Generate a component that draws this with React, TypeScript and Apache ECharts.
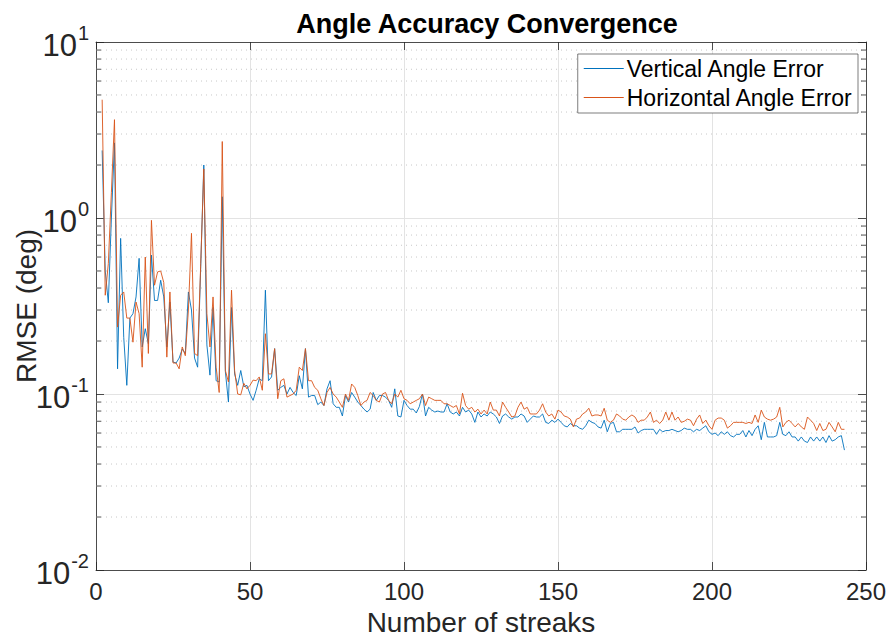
import React, { useEffect, useRef } from "react";
import * as echarts from "echarts";

const chartTitle = "Angle Accuracy Convergence";
const xName = "Number of streaks";
const yName = "RMSE (deg)";
const seriesNames = ["Vertical Angle Error", "Horizontal Angle Error"];
const seriesColors = ["#0072BD", "#D95319"];
const firstStreak = 2;

const verticalErr = [
  2.42, 0.5, 0.33, 1.0, 2.67, 0.139, 0.766, 0.21, 0.112, 0.27,
  0.286, 0.356, 0.59, 0.185, 0.235, 0.193, 0.615, 0.34, 0.34, 0.443,
  0.356, 0.185, 0.333, 0.152, 0.15, 0.16, 0.18, 0.17, 0.38, 0.3,
  0.16, 0.142, 0.53, 2.0, 0.19, 0.128, 0.31, 0.119, 0.117, 1.32,
  0.134, 0.09, 0.31, 0.13, 0.112, 0.136, 0.11, 0.112, 0.1, 0.092,
  0.105, 0.122, 0.119, 0.389, 0.119, 0.125, 0.181, 0.105, 0.109, 0.112,
  0.1, 0.109, 0.102, 0.098, 0.127, 0.107, 0.181, 0.096, 0.098, 0.098,
  0.087, 0.09, 0.086, 0.107, 0.119, 0.088, 0.084, 0.084, 0.075, 0.098,
  0.09, 0.102, 0.096, 0.09, 0.086, 0.082, 0.079, 0.082, 0.102, 0.092,
  0.098, 0.098, 0.096, 0.092, 0.084, 0.107, 0.075, 0.074, 0.092, 0.086,
  0.082, 0.082, 0.078, 0.085, 0.1, 0.075, 0.084, 0.081, 0.079, 0.08,
  0.079, 0.079, 0.088, 0.079, 0.077, 0.079, 0.075, 0.084, 0.079, 0.081,
  0.077, 0.069, 0.079, 0.074, 0.077, 0.075, 0.079, 0.077, 0.074, 0.068,
  0.075, 0.077, 0.074, 0.072, 0.074, 0.074, 0.077, 0.075, 0.069, 0.072,
  0.075, 0.074, 0.074, 0.077, 0.069, 0.068, 0.071, 0.069, 0.072, 0.069,
  0.066, 0.065, 0.068, 0.066, 0.066, 0.064, 0.063, 0.066, 0.071, 0.069,
  0.068, 0.065, 0.064, 0.071, 0.061, 0.068, 0.069, 0.061, 0.061, 0.063,
  0.063, 0.063, 0.063, 0.065, 0.06, 0.062, 0.063, 0.063, 0.063, 0.063,
  0.059, 0.063, 0.061, 0.062, 0.062, 0.063, 0.062, 0.061, 0.062, 0.064,
  0.063, 0.063, 0.061, 0.063, 0.062, 0.064, 0.066, 0.061, 0.059, 0.06,
  0.058, 0.061, 0.059, 0.061, 0.058, 0.057, 0.059, 0.059, 0.062, 0.057,
  0.062, 0.058, 0.063, 0.066, 0.055, 0.069, 0.057, 0.057, 0.057, 0.058,
  0.069, 0.059, 0.058, 0.061, 0.057, 0.057, 0.054, 0.057, 0.054, 0.053,
  0.057, 0.054, 0.057, 0.054, 0.057, 0.053, 0.058, 0.054, 0.055, 0.057,
  0.058, 0.048,
];

const horizontalErr = [
  4.7, 0.364, 0.55, 1.4, 3.62, 0.24, 0.364, 0.38, 0.27, 0.27,
  0.197, 0.333, 0.286, 0.142, 0.6, 0.17, 0.97, 0.415, 0.494, 0.5,
  0.43, 0.162, 0.38, 0.15, 0.15, 0.139, 0.185, 0.165, 0.3, 0.818,
  0.17, 0.165, 0.55, 1.9, 0.286, 0.185, 0.356, 0.142, 0.102, 2.72,
  0.136, 0.117, 0.389, 0.136, 0.1, 0.099, 0.115, 0.107, 0.112, 0.12,
  0.119, 0.125, 0.105, 0.22, 0.13, 0.13, 0.181, 0.094, 0.119, 0.122,
  0.096, 0.098, 0.1, 0.105, 0.142, 0.136, 0.181, 0.119, 0.119, 0.109,
  0.105, 0.094, 0.086, 0.102, 0.109, 0.1, 0.096, 0.09, 0.084, 0.1,
  0.092, 0.114, 0.109, 0.098, 0.086, 0.09, 0.092, 0.102, 0.098, 0.092,
  0.09, 0.1, 0.102, 0.092, 0.088, 0.1, 0.096, 0.105, 0.094, 0.092,
  0.088, 0.09, 0.092, 0.094, 0.1, 0.086, 0.096, 0.094, 0.092, 0.092,
  0.092, 0.088, 0.088, 0.086, 0.084, 0.086, 0.077, 0.101, 0.086, 0.082,
  0.084, 0.079, 0.082, 0.077, 0.081, 0.077, 0.09, 0.081, 0.081, 0.075,
  0.09, 0.084, 0.079, 0.074, 0.075, 0.084, 0.09, 0.082, 0.084, 0.077,
  0.077, 0.077, 0.081, 0.088, 0.079, 0.075, 0.077, 0.072, 0.081, 0.079,
  0.075, 0.074, 0.072, 0.065, 0.072, 0.073, 0.077, 0.079, 0.083, 0.075,
  0.076, 0.076, 0.075, 0.083, 0.071, 0.069, 0.071, 0.077, 0.075, 0.072,
  0.071, 0.074, 0.076, 0.074, 0.069, 0.071, 0.071, 0.074, 0.079, 0.069,
  0.071, 0.068, 0.071, 0.079, 0.071, 0.079, 0.071, 0.074, 0.069, 0.07,
  0.072, 0.071, 0.066, 0.072, 0.076, 0.068, 0.071, 0.066, 0.063, 0.071,
  0.073, 0.073, 0.071, 0.064, 0.066, 0.069, 0.069, 0.069, 0.069, 0.068,
  0.069, 0.068, 0.076, 0.069, 0.081, 0.074, 0.072, 0.071, 0.072, 0.074,
  0.084, 0.065, 0.069, 0.071, 0.068, 0.065, 0.068, 0.065, 0.063, 0.074,
  0.071, 0.068, 0.062, 0.068, 0.062, 0.063, 0.069, 0.065, 0.061, 0.069,
  0.063, 0.063,
];

const minorTickValues = [
  0.02, 0.03, 0.04, 0.05, 0.06, 0.07, 0.08, 0.09,
  0.2, 0.3, 0.4, 0.5, 0.6, 0.7, 0.8, 0.9,
  2, 3, 4, 5, 6, 7, 8, 9,
];

const FONT = "'Liberation Sans', Arial, Helvetica, sans-serif";
const AXIS_COLOR = "#262626";
const LEGEND_ICON = "path://M0,0 L40,0 L40,1 L0,1 Z";

export default function App() {
  const ref = useRef<HTMLDivElement>(null);

  useEffect(() => {
    if (!ref.current) return;
    const chart = echarts.init(ref.current, null, { renderer: "svg" });

    const vData = verticalErr.map((v, i) => [firstStreak + i, v]);
    const hData = horizontalErr.map((v, i) => [firstStreak + i, v]);

    const xCommon = {
      type: "value" as const,
      min: 0,
      max: 250,
      interval: 50,
    };
    const yCommon = {
      type: "log" as const,
      logBase: 10,
      min: 0.01,
      max: 10,
    };
    const lineCommon = { show: true, onZero: false, lineStyle: { color: AXIS_COLOR, width: 0.8 } };
    const tickCommon = { show: true, inside: true, length: 8, lineStyle: { color: AXIS_COLOR, width: 0.8 } };

    chart.setOption({
      animation: false,
      backgroundColor: "#ffffff",
      textStyle: { fontFamily: FONT },
      title: {
        text: chartTitle,
        left: 482,
        textAlign: "center",
        top: 5,
        textStyle: { fontSize: 27, fontWeight: "bold", color: "#000", fontFamily: FONT },
      },
      legend: {
        data: seriesNames.map((n) => ({ name: n, icon: LEGEND_ICON })),
        orient: "vertical",
        right: 33,
        top: 54,
        itemWidth: 40,
        itemHeight: 1.2,
        itemGap: 6,
        padding: [3, 5, 4, 6],
        backgroundColor: "#ffffff",
        borderColor: AXIS_COLOR,
        borderWidth: 0.6,
        textStyle: { fontSize: 23, color: "#000", fontFamily: FONT, padding: [0, 0, 0, -2] },
      },
      grid: {
        left: 96,
        right: 25,
        top: 42,
        bottom: 66,
        containLabel: false,
        outerBoundsMode: "none",
      },
      xAxis: [
        {
          ...xCommon,
          position: "bottom",
          name: xName,
          nameLocation: "middle",
          nameGap: 38,
          nameTextStyle: { fontSize: 28, color: AXIS_COLOR, fontFamily: FONT },
          axisLine: lineCommon,
          axisTick: tickCommon,
          axisLabel: { fontSize: 24, color: AXIS_COLOR, margin: 9, fontFamily: FONT },
          splitLine: { show: true, lineStyle: { color: "#e3e3e3", width: 1 } },
        },
        {
          ...xCommon,
          position: "top",
          axisLine: lineCommon,
          axisTick: tickCommon,
          axisLabel: { show: false },
          splitLine: { show: false },
        },
      ],
      yAxis: [
        {
          ...yCommon,
          position: "left",
          name: yName,
          nameLocation: "middle",
          nameGap: 56,
          nameMoveOverlap: false,
          nameRotate: 90,
          nameTextStyle: { fontSize: 28, color: AXIS_COLOR, fontFamily: FONT },
          axisLine: lineCommon,
          axisTick: tickCommon,
          axisLabel: {
            margin: 7,
            color: AXIS_COLOR,
            formatter: (v: number) => {
              const e = Math.round(Math.log10(v));
              return `{b|10}{s|${e}}`;
            },
            rich: {
              b: { fontSize: 31, color: AXIS_COLOR, fontFamily: FONT, lineHeight: 38, verticalAlign: "bottom" },
              s: { fontSize: 20, color: AXIS_COLOR, fontFamily: FONT, lineHeight: 38, verticalAlign: "top", padding: [0, 0, 0, 1] },
            },
          },
          splitLine: { show: true, lineStyle: { color: "#e3e3e3", width: 1 } },
        },
        {
          ...yCommon,
          position: "right",
          axisLine: lineCommon,
          axisTick: tickCommon,
          axisLabel: { show: false },
          splitLine: { show: false },
        },
      ],
      series: [
        {
          type: "custom",
          silent: true,
          xAxisIndex: 0,
          yAxisIndex: 0,
          z: 1,
          clip: false,
          data: minorTickValues.map((v) => [0, v]),
          renderItem: (params: any, api: any) => {
            const cs = params.coordSys;
            const y = api.coord([0, api.value(1)])[1];
            return {
              type: "group",
              children: [
                {
                  type: "line",
                  shape: { x1: cs.x, y1: y, x2: cs.x + cs.width, y2: y },
                  style: { stroke: "#c8c8c8", lineWidth: 1, lineDash: [1, 4] },
                },
                {
                  type: "line",
                  shape: { x1: cs.x, y1: y, x2: cs.x + 5, y2: y },
                  style: { stroke: AXIS_COLOR, lineWidth: 0.8 },
                },
                {
                  type: "line",
                  shape: { x1: cs.x + cs.width - 5, y1: y, x2: cs.x + cs.width, y2: y },
                  style: { stroke: AXIS_COLOR, lineWidth: 0.8 },
                },
              ],
            };
          },
        },
        {
          name: seriesNames[0],
          type: "line",
          data: vData,
          symbol: "none",
          z: 3,
          lineStyle: { color: seriesColors[0], width: 0.9 },
          itemStyle: { color: seriesColors[0] },
        },
        {
          name: seriesNames[1],
          type: "line",
          data: hData,
          symbol: "none",
          z: 4,
          lineStyle: { color: seriesColors[1], width: 0.9 },
          itemStyle: { color: seriesColors[1] },
        },
      ],
    });

    return () => {
      chart.dispose();
    };
  }, []);

  return (
    <div
      ref={ref}
      style={{ position: "fixed", left: 0, top: 0, width: 891, height: 636, background: "#fff" }}
    />
  );
}
